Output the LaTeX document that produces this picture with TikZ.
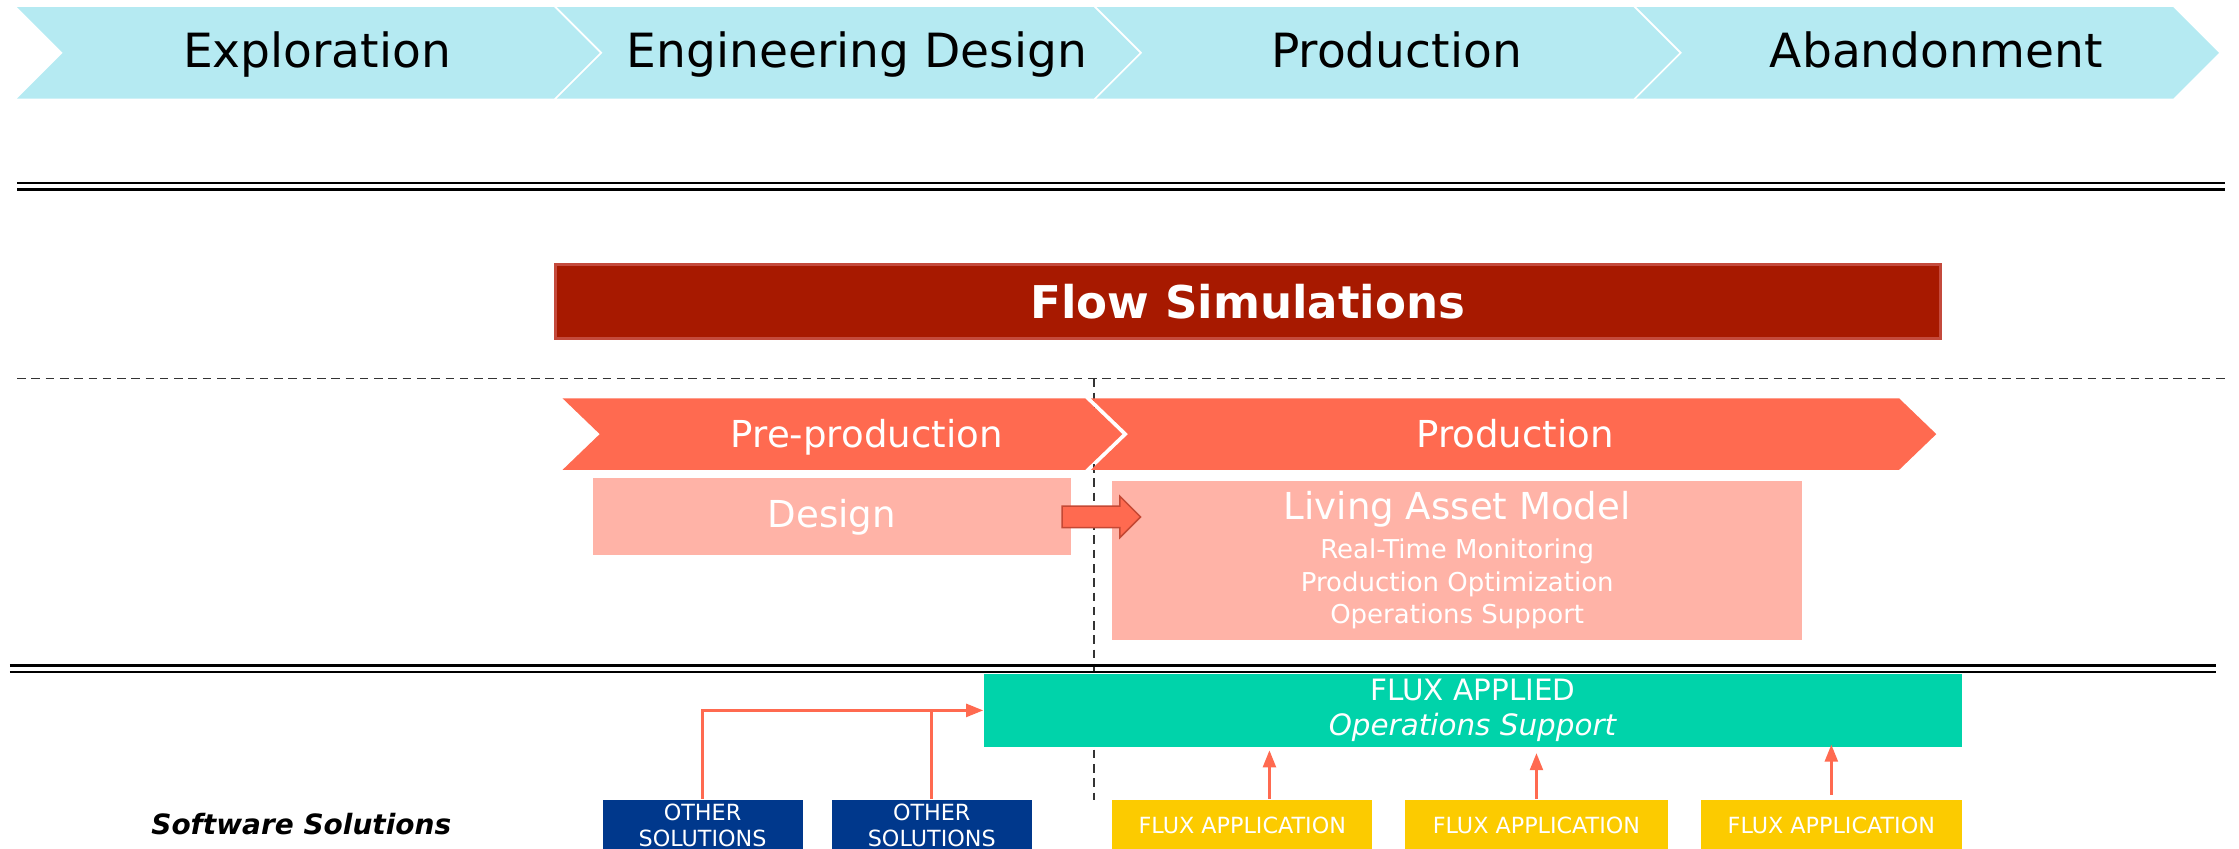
\documentclass[tikz,border=0pt]{standalone}
\usepackage{fontspec}
\setmainfont{DejaVu Sans}
\usetikzlibrary{arrows.meta,shapes.arrows}

\definecolor{phasecyan}{RGB}{181,234,242}
\definecolor{flowred}{RGB}{167,25,0}
\definecolor{flowedge}{RGB}{196,74,60}
\definecolor{coral}{RGB}{255,106,80}
\definecolor{coraldark}{RGB}{196,72,52}
\definecolor{salmon}{RGB}{255,179,167}
\definecolor{fluxgreen}{RGB}{0,211,170}
\definecolor{othernavy}{RGB}{0,56,140}
\definecolor{appyellow}{RGB}{252,203,0}

\tikzset{
  lifephase/.style={fill=phasecyan},
  lifelabel/.style={font=\fontsize{16.5}{20}\selectfont, text height=0.76em, text depth=0pt},
  stagephase/.style={fill=coral},
  stagelabel/.style={text=white, font=\fontsize{13}{16}\selectfont, text height=0.76em, text depth=0pt},
  softbox/.style={fill=salmon, text=white, inner sep=0pt, align=center},
  solutionbox/.style={text=white, inner sep=0pt, minimum height=18pt, align=center, font=\fontsize{7.8}{9}\selectfont},
  handarrow/.style={single arrow, fill=coral, draw=coraldark, line width=0.5pt, inner xsep=0pt, inner ysep=3.5pt, minimum height=27.5pt, single arrow head extend=3.5pt},
  link/.style={draw=coral, line width=1pt},
  linkarrow/.style={link, -{Triangle[length=6pt,width=4.5pt]}},
  divider/.style={dash pattern=on 3pt off 2pt, draw=black!80, line width=0.6pt}
}

\begin{document}
\begin{tikzpicture}[x=0.5pt, y=-0.5pt]
        \useasboundingbox (0,0) rectangle (1568,594);
        \clip (0,0) rectangle (1568,594);

        % dashed separators
        \draw[divider] (12,265) -- (1558,265);
        \draw[divider] (766,265) -- (766,560);

        % life cycle of the field
        \foreach \i/\name in {0/Exploration, 1/Engineering Design, 2/Production, 3/Abandonment}
        {
                \fill[lifephase] (12+378*\i,5) -- (388+378*\i,5) -- (420+378*\i,37) -- (388+378*\i,69) -- (12+378*\i,69) -- (44+378*\i,37) -- cycle;
                \node[lifelabel] (life\i) at (222+378*\i,40) {\name};
        }

        \draw[line width=0.75pt] (12,128) -- (1558,128);
        \draw[line width=1.1pt] (12,132.5) -- (1558,132.5);

        \node[fill=flowred, draw=flowedge, line width=1pt, text=white, font=\fontsize{15.8}{18}\selectfont\bfseries, minimum width=485pt, minimum height=26pt] (flow) at (874,211) {Flow Simulations};

        % stages
        \foreach \i/\l/\r/\name/\tx in {1/394/760/Pre-production/607, 2/764/1330/Production/1061}
        {
                \fill[stagephase] (\l,279) -- (\r,279) -- (\r+26,304) -- (\r,329) -- (\l,329) -- (\l+26,304) -- cycle;
                \node[stagelabel] (stage\i) at (\tx,306) {\name};
        }

        \node[softbox, minimum width=167.5pt, minimum height=27pt, font=\fontsize{13}{16}\selectfont] (design) at (582.5,362) {Design};
        \node[softbox, minimum width=241.5pt, minimum height=55.5pt, font=\fontsize{9.1}{11.5}\selectfont] (lam) at (1020.5,392.5)
                {{\fontsize{13}{13}\selectfont Living Asset Model}\\[2pt] Real-Time Monitoring\\ Production Optimization\\ Operations Support};
        \node[handarrow] (handover) at (767.5,362) {};

        \draw[line width=1.1pt] (7,466) -- (1552,466);
        \draw[line width=0.75pt] (7,470.5) -- (1552,470.5);

        % software
        \node[fill=fluxgreen, text=white, inner sep=0pt, align=center, minimum width=342.5pt, minimum height=25.5pt, font=\fontsize{10.3}{12.5}\selectfont] (flux) at (1031.5,497.5)
                {FLUX APPLIED\\\textit{Operations Support}};

        \node[font=\fontsize{9.8}{12}\selectfont\bfseries\itshape] (software) at (211,577) {Software Solutions};

        \foreach \i/\x in {1/492, 2/652.5}
                \node[solutionbox, fill=othernavy, minimum width=70pt] (other\i) at (\x,578) {OTHER\\SOLUTIONS};

        \foreach \i/\x/\w in {1/870/91pt, 2/1076/92pt, 3/1282.5/91.5pt}
                \node[solutionbox, fill=appyellow, minimum width=\w] (app\i) at (\x,578) {FLUX APPLICATION};

        \draw[linkarrow] (other1.north) |- (flux.west);
        \draw[link] (other2.north) -- (other2.north |- flux.west);

        \path (app1.north) ++(9.5pt,0) coordinate (feed1);
        \draw[linkarrow, shorten >=1pt] (feed1) -- (feed1 |- flux.south);
        \draw[linkarrow, shorten >=2pt] (app2.north) -- (app2.north |- flux.south);
        \draw[linkarrow, shorten <=1.5pt, shorten >=-1pt] (app3.north) -- (app3.north |- flux.south);

\end{tikzpicture}
\end{document}
